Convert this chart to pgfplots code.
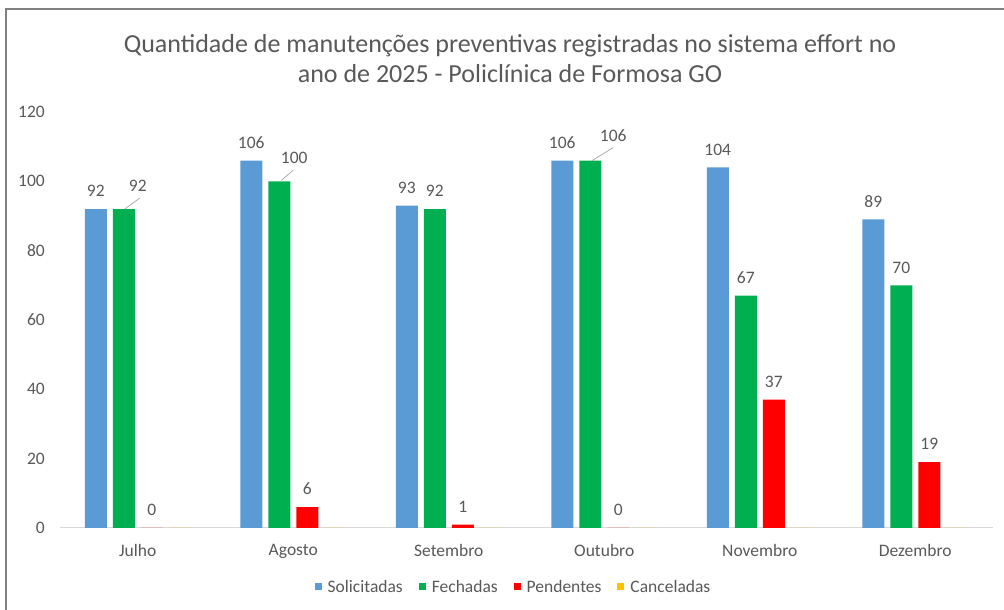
\documentclass[border=0pt]{standalone}
\usepackage{fontspec}
\setmainfont{Carlito}
\usepackage{pgfplots}
\usepackage{pgfplotstable}
\pgfplotsset{compat=1.18}
\definecolor{txt}{HTML}{595959}
\definecolor{cSol}{HTML}{5B9BD5}
\definecolor{cFec}{HTML}{00B050}
\definecolor{cPen}{HTML}{FF0000}
\definecolor{cCan}{HTML}{FFC000}
\definecolor{axl}{HTML}{D9D9D9}
\definecolor{lead}{HTML}{A6A6A6}

\pgfplotstableread{
x y
0 92
1 106
2 93
3 106
4 104
5 89
}\solicitadas

\pgfplotstableread{
x y dx dy
0 92 14 5
1 100 15 6
2 92 0 0
3 106 23 7
4 67 0 0
5 70 0 0
}\fechadas

\pgfplotstableread{
x y
0 0
1 6
2 1
3 0
4 37
5 19
}\pendentes

\pgfplotstableread{
x y
0 0
1 0
2 0
3 0
4 0
5 0
}\canceladas

\pgfplotsset{sqleg/.style={legend image code/.code={\fill[##1] (0pt,-3.5pt) rectangle (7pt,3.5pt); \path (0pt,0pt) -- (10pt,0pt);}}}

\begin{document}
\begin{tikzpicture}
\useasboundingbox (0,0) rectangle (1004pt,610pt);
\fill[white] (0,0) rectangle (1004pt,610pt);
\draw[gray, line width=2pt] (6pt,0pt) -- (6pt,601pt) -- (1004pt,601pt);
\node[align=center, text=txt, font=\fontsize{26}{30}\selectfont] at (510pt,551.5pt)
  {Quantidade de manutenções preventivas registradas no sistema effort no\\ano de 2025 - Policlínica de Formosa GO};
\begin{axis}[
  at={(60pt,82pt)}, anchor=south west,
  scale only axis, width=933pt, height=416pt,
  xmin=-0.5, xmax=5.5, ymin=0, ymax=120,
  ybar=6pt, bar width=22pt,
  axis x line*=bottom, axis y line*=left,
  x axis line style={draw=axl, line width=1pt, -},
  y axis line style={draw=none, -},
  major tick length=0pt,
  xtick={0,...,5},
  xticklabels={Julho,Agosto,Setembro,Outubro,Novembro,Dezembro},
  ytick={0,20,...,120},
  tick label style={text=txt, font=\fontsize{17.5}{20}\selectfont},
  /pgf/number format/assume math mode=true,
  yticklabel style={anchor=east, inner sep=0pt, xshift=-15pt},
  xticklabel style={anchor=north, inner sep=0pt, yshift=-16pt},
  clip=false,
  every node near coord/.append style={text=txt, font=\fontsize{17.5}{20}\selectfont, inner sep=0pt, yshift=12pt},
  legend columns=4,
  legend style={at={(0.4866,-0.1418)}, anchor=center, draw=none, fill=none,
    font=\fontsize{17.5}{20}\selectfont, text=txt,
    nodes={inner xsep=3pt, inner ysep=0pt},
    /tikz/every even column/.append style={column sep=13pt}},
]
\addplot[fill=cSol, draw=none, sqleg, nodes near coords] table[x=x,y=y]{\solicitadas};
\addplot[fill=cFec, draw=none, sqleg, nodes near coords,
  visualization depends on={\thisrow{dx}\as\dx},
  visualization depends on={\thisrow{dy}\as\dy},
  every node near coord/.append style={xshift=\dx pt, yshift=\dy pt}] table[x=x,y=y]{\fechadas};
\addplot[fill=cPen, draw=none, sqleg, nodes near coords] table[x=x,y=y]{\pendentes};
\addplot[fill=cCan, draw=none, sqleg] table[x=x,y=y]{\canceladas};
\legend{Solicitadas,Fechadas,Pendentes,Canceladas}
\draw[lead, line width=0.7pt] ([xshift=-13pt]axis cs:0,92) -- ([xshift=2pt,yshift=11pt]axis cs:0,92);
\draw[lead, line width=0.7pt] ([xshift=-12pt,yshift=1pt]axis cs:1,100) -- ([xshift=0pt,yshift=11pt]axis cs:1,100);
\draw[lead, line width=0.7pt] ([xshift=-12pt]axis cs:3,106) -- ([xshift=9pt,yshift=13pt]axis cs:3,106);
\end{axis}
\end{tikzpicture}
\end{document}
